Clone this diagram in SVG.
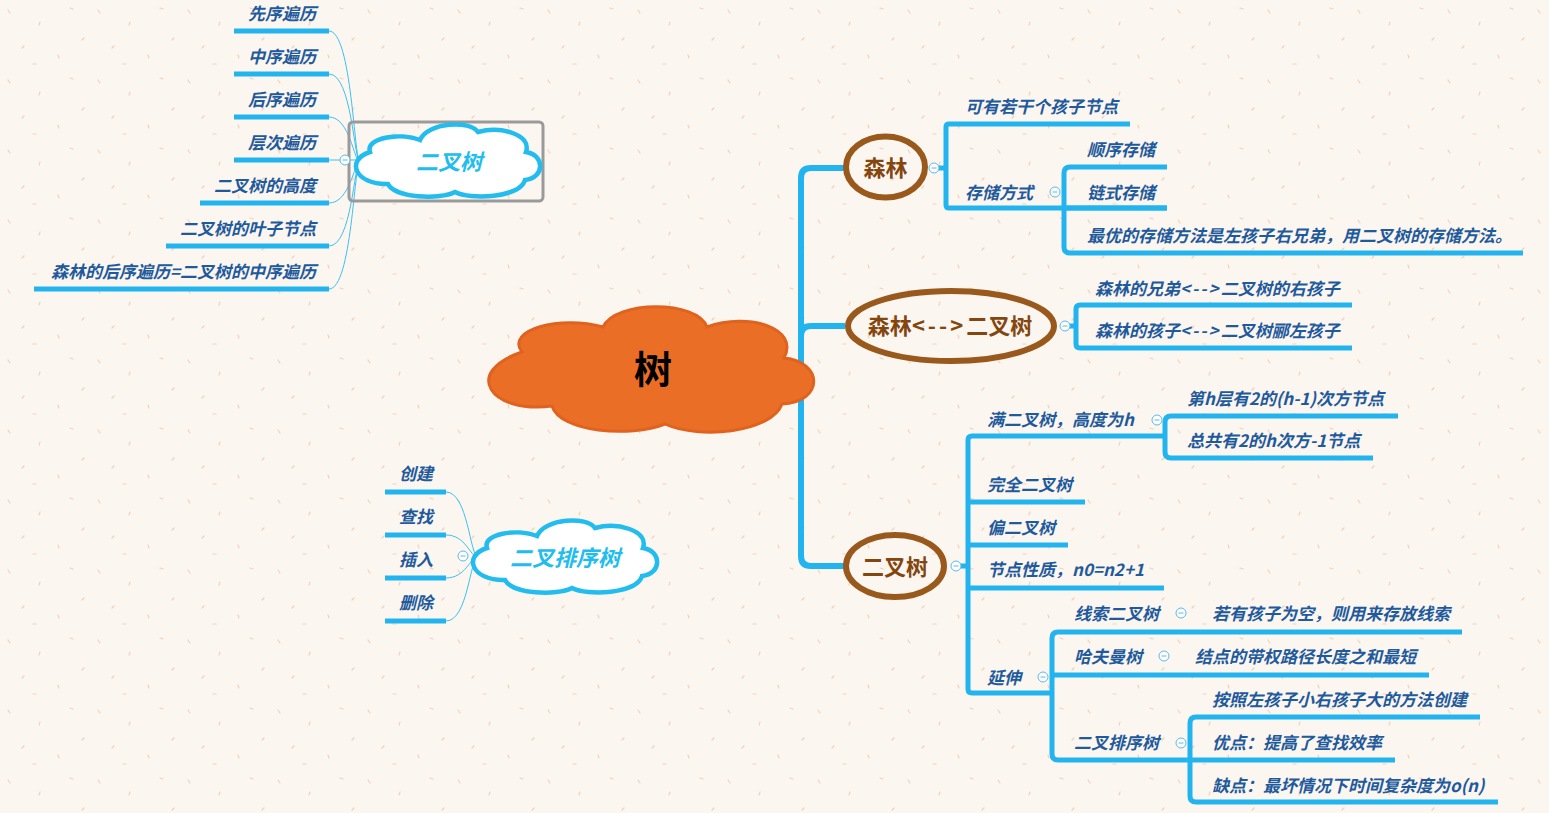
<svg xmlns="http://www.w3.org/2000/svg" width="1549" height="813" viewBox="0 0 1549 813">
<defs>
<pattern id="bgp" width="90" height="70" patternUnits="userSpaceOnUse">
<rect width="90" height="70" fill="#FCF6F0"/>
<g stroke="#F0D2BC" stroke-width="1.2" stroke-linecap="round">
<path d="M8,10 l2,3"/><path d="M40,22 l-1,3"/><path d="M70,8 l3,1"/><path d="M22,48 l2,-2"/><path d="M58,55 l1,3"/><path d="M84,38 l-2,2"/><path d="M33,64 l3,0"/>
</g>
</pattern>
<path id="cloud" d="M -77,-10 C -82,-24 -47,-30 -27,-22 C -19,-40 23,-42 31,-30 C 53,-36 85,-28 79,-10 C 98,-7 98,16 78,18 C 73,36 23,38 8,30 C -7,38 -52,36 -59,22 C -92,23 -102,-2 -77,-10 Z"/>
<g id="col"><circle r="5" fill="#FFFFFF" stroke="#5BB9EA" stroke-width="1"/><path d="M-2.5,0 H2.5" stroke="#5BB9EA" stroke-width="1"/></g>
</defs>
<style>
.t{font-family:"Noto Sans CJK SC","Noto Sans",sans-serif;font-weight:bold;font-style:italic;font-size:17px;fill:#1E5A9C}
.e{font-family:"Noto Sans CJK SC","Noto Sans",sans-serif;font-weight:bold;font-size:22px;fill:#84460F;text-anchor:middle}
.c{font-family:"Noto Sans CJK SC","Noto Sans",sans-serif;font-weight:bold;font-style:italic;font-size:22px;fill:#22BDEE;text-anchor:middle}
.r{text-anchor:end}
.ln{fill:none;stroke:#22B4EE;stroke-width:5}
.main{fill:none;stroke:#22B4EE;stroke-width:6}
.thin{fill:none;stroke:#3CC0F0;stroke-width:1}
.ell{fill:none;stroke:#99591C;stroke-width:6}
.cl{fill:#FFFFFF;stroke:#22BDEE;stroke-width:4.5}
</style>
<rect width="1549" height="813" fill="url(#bgp)"/>

<g id="connectors">
<!-- main -->
<path class="main" d="M845,168 H811 Q801,168 801,178 V556 Q801,566 811,566 H845"/>
<path class="main" d="M801,336 Q801,326 811,326 H845"/>
<!-- 森林 -->
<path class="ln" d="M938,168 H946"/>
<path class="ln" d="M1130,124 H949 Q946,124 946,127 V205 Q946,208 949,208 H1167"/>
<path class="ln" d="M1167,167 H1070 Q1064,167 1064,173 V247 Q1064,253 1070,253 H1523"/>
<path class="ln" d="M1064,208 H1167"/>
<!-- 森林<-->二叉树 -->
<path class="ln" d="M1069,326 H1076"/>
<path class="ln" d="M1352,305 H1080 Q1076,305 1076,309 V344 Q1076,348 1080,348 H1352"/>
<!-- 二叉树 -->
<path class="ln" d="M960,566 H968"/>
<path class="ln" d="M1163,436 H972 Q968,436 968,440 V689 Q968,693 972,693 H1052"/>
<path class="ln" d="M968,502 H1085"/>
<path class="ln" d="M968,545 H1068"/>
<path class="ln" d="M968,588 H1164"/>
<path class="ln" d="M1398,416 H1171 Q1165,416 1165,422 V452 Q1165,458 1171,458 H1373"/>
<path class="ln" d="M1462,632 H1058 Q1052,632 1052,638 V754 Q1052,760 1058,760 H1395"/>
<path class="ln" d="M1052,675 H1429"/>
<path class="ln" d="M1480,717 H1196 Q1190,717 1190,723 V796 Q1190,802 1196,802 H1498"/>
<!-- left 二叉树 -->
<path class="ln" d="M234,31 H329 M234,74 H329 M234,117 H329 M234,160 H329 M200,203 H329 M166,246 H329 M34,289 H329"/>
<path class="thin" d="M329,31 C352,31 354,162 360,162 M329,74 C352,74 354,162 360,162 M329,117 C350,117 354,162 360,162 M329,160 H360 M329,203 C350,203 354,162 360,162 M329,246 C352,246 354,162 360,162 M329,289 C352,289 354,162 360,162"/>
<!-- left 二叉排序树 -->
<path class="ln" d="M385,492 H446 M385,535 H446 M385,578 H446 M385,621 H446"/>
<path class="thin" d="M446,492 C468,492 470,557 478,557 M446,535 C466,535 470,557 478,557 M446,578 C466,578 470,557 478,557 M446,621 C468,621 470,557 478,557"/>
</g>

<g id="root">
<path d="M 522,352 C 505,330 560,315 603,327 C 615,300 698,300 707,327 C 748,312 800,328 784,358 C 824,362 824,402 782,404 C 772,432 700,440 665,424 C 630,438 560,432 552,406 C 490,414 462,372 522,352 Z" fill="#EB6E26" stroke="#E0621F" stroke-width="3"/>
<text x="653" y="383" font-family="'Noto Sans CJK SC','Noto Sans',sans-serif" font-weight="bold" font-size="38" fill="#000" text-anchor="middle">树</text>
</g>

<g id="forest">
<ellipse class="ell" cx="885.5" cy="167" rx="39.5" ry="30.5"/>
<text class="e" x="885.5" y="176">森林</text>
<use href="#col" x="934" y="168"/>
</g>
<g id="forest-leaf1"><text class="t" x="965" y="113">可有若干个孩子节点</text></g>
<g id="storage"><text class="t" x="965" y="199">存储方式</text><use href="#col" x="1055" y="192"/></g>
<g id="storage-1"><text class="t" x="1087" y="156">顺序存储</text></g>
<g id="storage-2"><text class="t" x="1087" y="199">链式存储</text></g>
<g id="storage-3"><text class="t" x="1087" y="242">最优的存储方法是左孩子右兄弟，用二叉树的存储方法。</text></g>

<g id="convert">
<ellipse class="ell" cx="951" cy="326" rx="103" ry="35"/>
<text class="e" x="950" y="334">森林<tspan letter-spacing="3">&lt;--&gt;</tspan>二叉树</text>
<use href="#col" x="1065" y="326"/>
</g>
<g id="convert-1"><text class="t" x="1095" y="295">森林的兄弟<tspan letter-spacing="2">&lt;--&gt;</tspan>二叉树的右孩子</text></g>
<g id="convert-2"><text class="t" x="1095" y="337">森林的孩子<tspan letter-spacing="2">&lt;--&gt;</tspan>二叉树郦左孩子</text></g>

<g id="bintree">
<ellipse class="ell" cx="895" cy="566" rx="49" ry="31"/>
<text class="e" x="895" y="575">二叉树</text>
<use href="#col" x="956" y="566"/>
</g>
<g id="full"><text class="t" x="987" y="426">满二叉树，高度为h</text><use href="#col" x="1157" y="420"/></g>
<g id="full-1"><text class="t" x="1187" y="405">第h层有2的(h-1)次方节点</text></g>
<g id="full-2"><text class="t" x="1187" y="447">总共有2的h次方-1节点</text></g>
<g id="complete"><text class="t" x="987" y="491">完全二叉树</text></g>
<g id="skew"><text class="t" x="987" y="534">偏二叉树</text></g>
<g id="prop"><text class="t" x="987" y="576">节点性质，n0=n2+1</text></g>
<g id="ext"><text class="t" x="987" y="684">延伸</text><use href="#col" x="1043" y="677"/></g>
<g id="thread"><text class="t" x="1074" y="620">线索二叉树</text><use href="#col" x="1181" y="613"/></g>
<g id="thread-1"><text class="t" x="1212" y="620">若有孩子为空，则用来存放线索</text></g>
<g id="huff"><text class="t" x="1074" y="663">哈夫曼树</text><use href="#col" x="1164" y="656"/></g>
<g id="huff-1"><text class="t" x="1195" y="663">结点的带权路径长度之和最短</text></g>
<g id="bst"><text class="t" x="1074" y="749">二叉排序树</text><use href="#col" x="1181" y="743"/></g>
<g id="bst-1"><text class="t" x="1212" y="706">按照左孩子小右孩子大的方法创建</text></g>
<g id="bst-2"><text class="t" x="1212" y="749">优点：提高了查找效率</text></g>
<g id="bst-3"><text class="t" x="1212" y="792">缺点：最坏情况下时间复杂度为o(n)</text></g>

<g id="float-bintree">
<rect x="349" y="122" width="194" height="79" rx="4" fill="none" stroke="#9A9A9A" stroke-width="3"/>
<use href="#cloud" x="447" y="162" class="cl"/>
<text class="c" x="449" y="170">二叉树</text>
<use href="#col" x="345" y="160"/>
</g>
<g id="lb1"><text class="t r" x="316" y="20">先序遍历</text></g>
<g id="lb2"><text class="t r" x="316" y="63">中序遍历</text></g>
<g id="lb3"><text class="t r" x="316" y="106">后序遍历</text></g>
<g id="lb4"><text class="t r" x="316" y="149">层次遍历</text></g>
<g id="lb5"><text class="t r" x="316" y="192">二叉树的高度</text></g>
<g id="lb6"><text class="t r" x="316" y="235">二叉树的叶子节点</text></g>
<g id="lb7"><text class="t r" x="316" y="278">森林的后序遍历=二叉树的中序遍历</text></g>

<g id="float-bst">
<use href="#cloud" x="564" y="558" class="cl"/>
<text class="c" x="565" y="566">二叉排序树</text>
<use href="#col" x="463" y="556"/>
</g>
<g id="ls1"><text class="t r" x="433" y="480">创建</text></g>
<g id="ls2"><text class="t r" x="433" y="523">查找</text></g>
<g id="ls3"><text class="t r" x="433" y="566">插入</text></g>
<g id="ls4"><text class="t r" x="433" y="609">删除</text></g>
</svg>
